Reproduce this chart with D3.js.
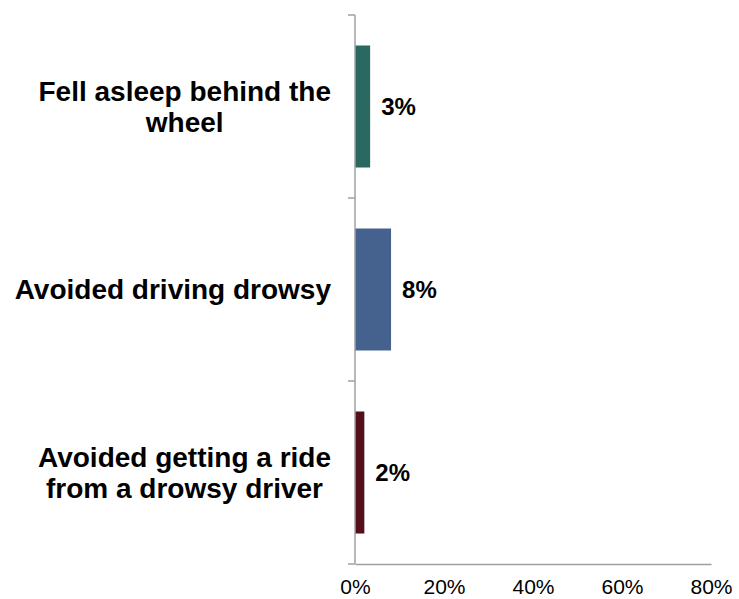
<!DOCTYPE html>
<html>
<head>
<meta charset="utf-8">
<script src="https://cdn.jsdelivr.net/npm/d3@7"></script>
<style>
  body { margin: 0; background: #fff; }
  svg { display: block; font-family: "Liberation Sans", Arial, sans-serif; }
</style>
</head>
<body>
<div id="chart"></div>
<script>
const categories = [
  "Fell asleep behind the wheel",
  "Avoided driving drowsy",
  "Avoided getting a ride from a drowsy driver"
];
const labelLines = [
  ["Fell asleep behind the", "wheel"],
  ["Avoided driving drowsy"],
  ["Avoided getting a ride", "from a drowsy driver"]
];
const values = [3.4, 8.1, 2.1];
const valueLabels = ["3%", "8%", "2%"];
const colors = ["#29695f", "#45628f", "#53101a"];
const xTicks = [0, 20, 40, 60, 80];

const width = 739;
const height = 599;
const margin = { top: 15, right: 28, bottom: 35, left: 355 };

const svg = d3.select("#chart").append("svg")
  .attr("width", width)
  .attr("height", height);

const x = d3.scaleLinear()
  .domain([0, 80])
  .range([margin.left, width - margin.right]);

const y = d3.scaleBand()
  .domain(categories)
  .range([margin.top, height - margin.bottom])
  .paddingInner(1 / 3)
  .paddingOuter(1 / 6);

const axisColor = "#a0a0a0";

// bars
svg.append("g")
  .selectAll("rect")
  .data(categories)
  .join("rect")
  .attr("x", x(0))
  .attr("y", (d) => y(d))
  .attr("width", (d, i) => x(values[i]) - x(0))
  .attr("height", y.bandwidth())
  .attr("fill", (d, i) => colors[i]);

// value labels
svg.append("g")
  .selectAll("text")
  .data(categories)
  .join("text")
  .attr("x", (d, i) => x(values[i]) + 11)
  .attr("y", (d) => y(d) + y.bandwidth() / 2)
  .attr("dy", "0.36em")
  .attr("font-size", 24)
  .attr("font-weight", "bold")
  .attr("fill", "#000")
  .text((d, i) => valueLabels[i]);

// x axis (line + labels, no ticks)
const xAxis = svg.append("g")
  .attr("transform", `translate(0,${height - margin.bottom})`)
  .call(d3.axisBottom(x).tickValues(xTicks).tickSize(0).tickPadding(15).tickFormat((d) => d + "%"));
xAxis.select(".domain").attr("stroke", axisColor).attr("stroke-width", 1.5);
xAxis.selectAll("text")
  .attr("font-size", 21)
  .attr("font-family", "\"Liberation Sans\", Arial, sans-serif")
  .attr("fill", "#000");

// y axis line with category boundary ticks
const step = y.step();
const boundaries = d3.range(categories.length + 1).map((i) => margin.top + i * step);
svg.append("line")
  .attr("x1", x(0)).attr("x2", x(0))
  .attr("y1", margin.top).attr("y2", height - margin.bottom)
  .attr("stroke", axisColor)
  .attr("stroke-width", 1.5);
svg.append("g")
  .selectAll("line")
  .data(boundaries)
  .join("line")
  .attr("x1", x(0) - 7).attr("x2", x(0))
  .attr("y1", (d) => d).attr("y2", (d) => d)
  .attr("stroke", axisColor)
  .attr("stroke-width", 1.5);

// category labels: block right-aligned, lines centered within block
const lineH = 31;
const labelRight = x(0) - 24;
const labels = svg.append("g")
  .selectAll("text")
  .data(categories)
  .join("text")
  .attr("font-size", 28)
  .attr("font-weight", "bold")
  .attr("fill", "#000")
  .attr("text-anchor", "middle");

labels.each(function (d, i) {
  const t = d3.select(this);
  const lines = labelLines[i];
  const cy = y(d) + y.bandwidth() / 2;
  lines.forEach((ln, j) => {
    t.append("tspan")
      .attr("y", cy + (j - (lines.length - 1) / 2) * lineH)
      .attr("dy", "0.35em")
      .text(ln);
  });
  const w = d3.max(t.selectAll("tspan").nodes(), (n) => n.getComputedTextLength());
  t.selectAll("tspan").attr("x", labelRight - w / 2);
});
</script>
</body>
</html>
